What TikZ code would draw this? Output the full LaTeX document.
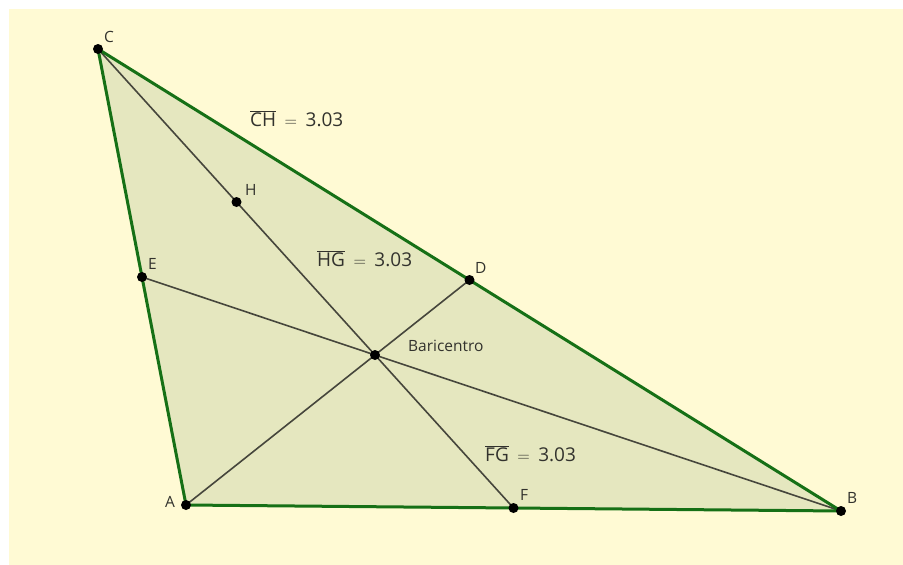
\documentclass[tikz,border=0pt]{standalone}
\usepackage{fontspec}
\setmainfont{Open Sans}
\definecolor{bgyel}{RGB}{255,250,212}
\definecolor{trifill}{RGB}{229,231,191}
\definecolor{edgegreen}{RGB}{22,112,22}
\definecolor{medgray}{RGB}{70,70,60}
\definecolor{txtgray}{RGB}{50,50,45}
\newcommand\ovl[1]{$\overline{\mbox{#1}}$}
\newcommand\meastext[1]{\ovl{#1}\hspace{8.5pt}$=$\hspace{8.5pt}3.03}
\begin{document}
\begin{tikzpicture}[x=1pt,y=-1pt,
  pt/.style={circle,fill=black,inner sep=0pt,minimum size=10pt},
  ptlabel/.style={anchor=base west,inner sep=0pt,text=txtgray,font=\fontsize{15.5}{18}\selectfont},
  side/.style={draw=edgegreen,line width=3pt,line join=round,line cap=round},
  median/.style={draw=medgray,line width=1.6pt},
  meas/.style={anchor=base west,inner sep=0pt,text=txtgray,font=\fontsize{19}{22}\selectfont}]
\useasboundingbox (0,0) rectangle (903,565);
\fill[bgyel] (9,9) rectangle (903,565);
% points
\coordinate (A) at (186,505);
\coordinate (B) at (841,511);
\coordinate (C) at (98,49);
\coordinate (D) at (469.5,280);
\coordinate (E) at (142,277);
\coordinate (F) at (513.5,508);
\coordinate (G) at (375,355);
\coordinate (H) at (236.5,202);
% triangle
\fill[trifill] (A) -- (B) -- (C) -- cycle;
% medians
\draw[median] (C) -- (F);
\draw[median] (E) -- (B);
\draw[median] (A) -- (D);
% sides
\draw[side] (A) -- (B) -- (C) -- cycle;
% dots
\foreach \p in {A,B,C,D,E,F,G,H} \node[pt] (dot\p) at (\p) {};
% point labels
\node[ptlabel] (lC) at (104,42) {C};
\node[ptlabel] (lB) at (847,503) {B};
\node[ptlabel] (lA) at (165,507) {A};
\node[ptlabel] (lE) at (148,269) {E};
\node[ptlabel] (lD) at (475,273) {D};
\node[ptlabel] (lF) at (520,500) {F};
\node[ptlabel] (lH) at (245,195) {H};
\node[ptlabel] (lG) at (408,351) {Baricentro};
% measurements
\node[meas] (mCH) at (250,126) {\meastext{CH}};
\node[meas] (mHG) at (317,266) {\meastext{HG}};
\node[meas] (mFG) at (485,461) {\meastext{FG}};
\end{tikzpicture}
\end{document}
